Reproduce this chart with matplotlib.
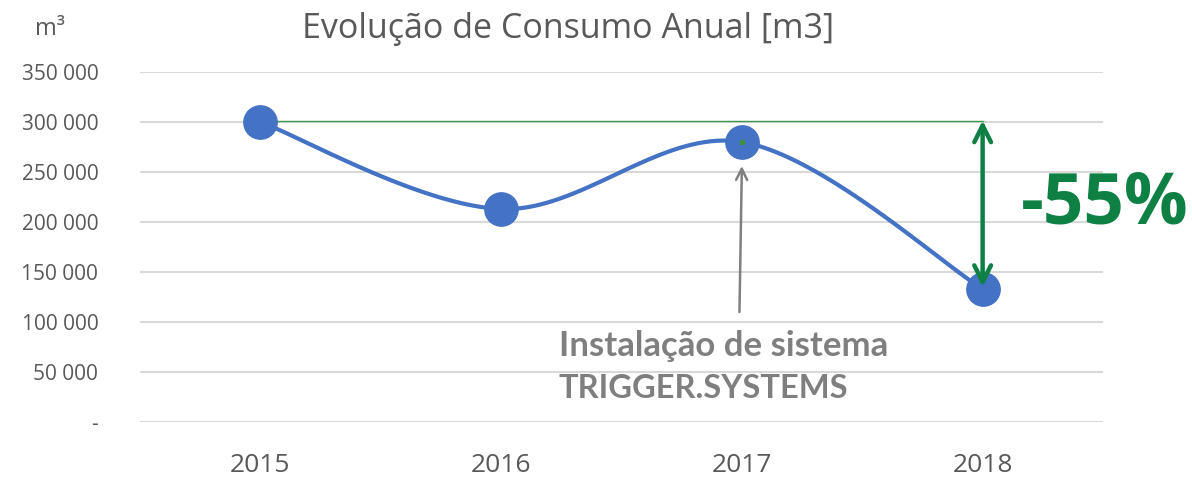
import numpy as np
import matplotlib
matplotlib.use('Agg')
import matplotlib.pyplot as plt
from matplotlib.ticker import FuncFormatter

anos = ['2015', '2016', '2017', '2018']
consumo = [300000, 213000, 280000, 133000]
titulo = 'Evolução de Consumo Anual [m3]'
reducao = '-55%'
nota1 = 'Instalação de sistema'
nota2 = 'TRIGGER.SYSTEMS'

azul = '#4472C4'
verde = '#0E8044'
cinza = '#595959'

plt.rcParams['font.family'] = ['Open Sans', 'DejaVu Sans']

fig = plt.figure(figsize=(11.92, 4.8), dpi=100)
ax = fig.add_axes([140 / 1192, 58 / 480, 963 / 1192, 350 / 480])

# linha suavizada (bezier tipo excel)
x = np.arange(len(consumo), dtype=float)
y = np.array(consumo, dtype=float)
px = np.concatenate([[x[0]], x, [x[-1]]])
py = np.concatenate([[y[0]], y, [y[-1]]])
t = np.linspace(0, 1, 40)
cx, cy = [], []
for i in range(len(x) - 1):
    p0 = np.array([px[i], py[i]])
    p1 = np.array([px[i + 1], py[i + 1]])
    p2 = np.array([px[i + 2], py[i + 2]])
    p3 = np.array([px[i + 3], py[i + 3]])
    c1 = p1 + (p2 - p0) / 6
    c2 = p2 - (p3 - p1) / 6
    for tt in t:
        b = ((1 - tt) ** 3) * p1 + 3 * ((1 - tt) ** 2) * tt * c1 + 3 * (1 - tt) * tt ** 2 * c2 + tt ** 3 * p2
        cx.append(b[0])
        cy.append(b[1])
ax.plot(cx, cy, color=azul, lw=3, zorder=3, solid_capstyle='round')
ax.plot(x, y, 'o', color=azul, ms=24, zorder=4)
ax.plot(x[2], y[2], 'o', color='#3d8f3d', ms=3, zorder=5)

# linha de referencia e seta
ax.plot([x[0], x[3]], [y[0] + 1500, y[0] + 1500], color='#3d9a4f', lw=1, zorder=2)
ax.annotate('', xy=(x[3], y[3] + 2000), xytext=(x[3], y[0] + 1500),
            arrowprops=dict(arrowstyle='<->,head_length=1.2,head_width=0.6', color=verde, lw=3.2,
                            shrinkA=0, shrinkB=0), zorder=6)
ax.text(3.16, 217000, reducao, color=verde, fontsize=51, fontweight='bold',
        ha='left', va='center', family=['Open Sans', 'DejaVu Sans'])

# nota da instalacao
ax.annotate('', xy=(x[2], 256000), xytext=(1.99, 110000),
            arrowprops=dict(arrowstyle='->,head_length=0.8,head_width=0.4', color='#808080', lw=1.8,
                            shrinkA=0, shrinkB=0), zorder=6)
ax.text(1.24, 76000, nota1, color='#7f7f7f', fontsize=25, fontweight='bold',
        ha='left', va='center', family=['Lato', 'DejaVu Sans'])
ax.text(1.24, 34000, nota2, color='#7f7f7f', fontsize=23.5, fontweight='bold',
        ha='left', va='center', family=['Lato', 'DejaVu Sans'])

ax.set_xlim(-0.5, 3.5)
ax.set_ylim(0, 350000)
ax.set_yticks(np.arange(0, 350001, 50000))
ax.yaxis.set_major_formatter(FuncFormatter(lambda v, p: '-' if v == 0 else f'{int(v):,}'.replace(',', ' ')))
ax.set_xticks(x)
ax.set_xticklabels(anos)
ax.grid(axis='y', color='#D9D9D9', lw=1.5)
ax.set_axisbelow(True)
for s in ax.spines.values():
    s.set_visible(False)
ax.tick_params(axis='y', length=0, labelsize=15, colors=cinza, pad=30)
ax.tick_params(axis='x', length=0, labelsize=19, colors=cinza, pad=22)
for lbl in ax.get_yticklabels():
    lbl.set_horizontalalignment('right')

fig.text(568 / 1192, 1 - 29 / 480, titulo, ha='center', va='center', fontsize=24.5, color=cinza)
fig.text(50 / 1192, 1 - 29 / 480, 'm³', ha='center', va='center', fontsize=17, color=cinza)

fig.savefig('out.png', dpi=100)
